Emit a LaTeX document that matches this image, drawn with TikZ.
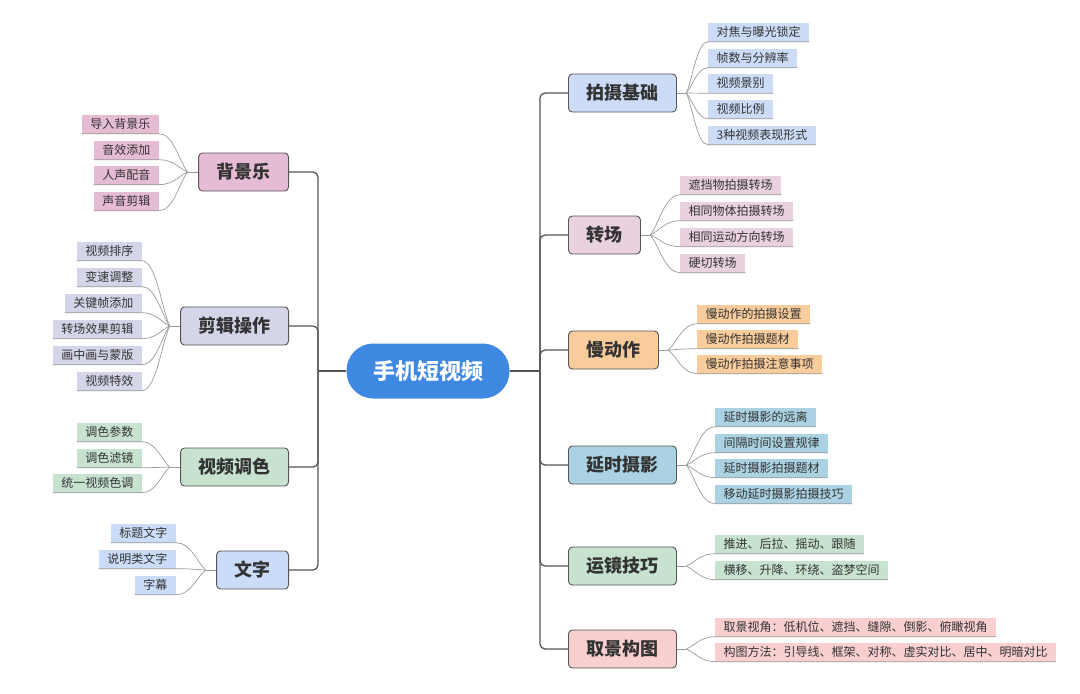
\documentclass[tikz,border=0pt]{standalone}
\usepackage{fontspec}
\usetikzlibrary{calc}
\newfontfamily\cjk{Noto Sans CJK SC}
\definecolor{rootc}{HTML}{3E88E2}
\definecolor{trunkc}{HTML}{555555}
\definecolor{connc}{HTML}{9A9A9A}
\definecolor{txtc}{HTML}{333333}
\definecolor{cA}{HTML}{CCDCF7}
\definecolor{cB}{HTML}{E9D1E0}
\definecolor{cC}{HTML}{F9CC9C}
\definecolor{cD}{HTML}{AAD2E2}
\definecolor{cE}{HTML}{C7E3D0}
\definecolor{cF}{HTML}{F9CFCF}
\definecolor{cG}{HTML}{E5BCD3}
\definecolor{cH}{HTML}{D4D5E8}
\definecolor{cI}{HTML}{C7E3D0}
\definecolor{cJ}{HTML}{CADCF8}
\tikzset{
  rootbox/.style={fill=rootc, text=white, rounded corners=27pt, minimum width=163pt, minimum height=55pt, inner sep=0pt, font=\cjk\bfseries\fontsize{22}{26}\selectfont},
  branchbox/.style={draw=trunkc, line width=0.9pt, rounded corners=4pt, fill=#1, text=txtc, minimum height=38pt, inner xsep=18pt, inner ysep=0pt, text height=15pt, text depth=3pt, font=\cjk\bfseries\fontsize{18}{20}\selectfont},
  leafbox/.style={fill=#1, text=txtc, minimum height=19pt, inner xsep=8.5pt, inner ysep=0pt, text height=10.3pt, text depth=1.6pt, font=\cjk\fontsize{12}{14}\selectfont},
  trunk/.style={draw=trunkc, line width=1.3pt, rounded corners=5pt},
  conn/.style={draw=connc, line width=0.7pt},
}
\newcommand\rleaf[2]{\draw[conn] let \p1=(#1), \p2=(#2.south west) in (\p1) .. controls ({\x1+0.3*(\x2-\x1)},{\y1+0.3*(\y2-\y1)}) and ({\x1+0.5*(\x2-\x1)},\y2) .. (\p2) -- (#2.south east);}
\newcommand\lleaf[2]{\draw[conn] let \p1=(#1), \p2=(#2.south east) in (\p1) .. controls ({\x1+0.3*(\x2-\x1)},{\y1+0.3*(\y2-\y1)}) and ({\x1+0.5*(\x2-\x1)},\y2) .. (\p2) -- (#2.south west);}
\begin{document}
\begin{tikzpicture}[x=1pt,y=-1pt]
\useasboundingbox (0,0) rectangle (1080,694);
% root
\node[rootbox] (root) at (428,371) {手机短视频};
\coordinate (LT) at (318,371);
\coordinate (RT) at (540,371);
% right branches
\node[branchbox=cA, anchor=west] (A) at (568,93) {拍摄基础};
\node[branchbox=cB, anchor=west] (B) at (568,235) {转场};
\node[branchbox=cC, anchor=west] (C) at (568,350) {慢动作};
\node[branchbox=cD, anchor=west] (D) at (568,465) {延时摄影};
\node[branchbox=cE, anchor=west] (E) at (568,566) {运镜技巧};
\node[branchbox=cF, anchor=west] (F) at (568,649) {取景构图};
% left branches
\node[branchbox=cG, anchor=east] (G) at (289,172) {背景乐};
\node[branchbox=cH, anchor=east] (H) at (289,326) {剪辑操作};
\node[branchbox=cI, anchor=east] (I) at (289,467) {视频调色};
\node[branchbox=cJ, anchor=east] (J) at (289,570) {文字};
% trunks
\draw[trunk] (root.west) -- (LT);
\draw[trunk] (root.east) -- (RT);
\foreach \b in {A,B,C,D,E,F} {\draw[trunk] (RT) |- (\b.west);}
\foreach \b in {G,H,I,J} {\draw[trunk] (LT) |- (\b.east);}
% junctions
\foreach \b in {A,B,C,D,E,F} {\coordinate (j\b) at ([xshift=9.5pt]\b.east); \draw[conn] (\b.east) -- (j\b);}
\foreach \b in {G,H,I,J} {\coordinate (j\b) at ([xshift=-10.5pt]\b.west); \draw[conn] (\b.west) -- (j\b);}
% leaves A
\node[leafbox=cA, anchor=west] (A1) at (708,32) {对焦与曝光锁定};
\node[leafbox=cA, anchor=west] (A2) at (708,58) {帧数与分辨率};
\node[leafbox=cA, anchor=west] (A3) at (708,83.5) {视频景别};
\node[leafbox=cA, anchor=west] (A4) at (708,109) {视频比例};
\node[leafbox=cA, anchor=west] (A5) at (708,135) {3种视频表现形式};
% leaves B
\node[leafbox=cB, anchor=west] (B1) at (680,185) {遮挡物拍摄转场};
\node[leafbox=cB, anchor=west] (B2) at (680,211) {相同物体拍摄转场};
\node[leafbox=cB, anchor=west] (B3) at (680,237) {相同运动方向转场};
\node[leafbox=cB, anchor=west] (B4) at (680,263) {硬切转场};
% leaves C
\node[leafbox=cC, anchor=west] (C1) at (697,314) {慢动作的拍摄设置};
\node[leafbox=cC, anchor=west] (C2) at (697,339) {慢动作拍摄题材};
\node[leafbox=cC, anchor=west] (C3) at (697,364) {慢动作拍摄注意事项};
% leaves D
\node[leafbox=cD, anchor=west] (D1) at (715,417) {延时摄影的远离};
\node[leafbox=cD, anchor=west] (D2) at (715,443) {间隔时间设置规律};
\node[leafbox=cD, anchor=west] (D3) at (715,468) {延时摄影拍摄题材};
\node[leafbox=cD, anchor=west] (D4) at (715,494) {移动延时摄影拍摄技巧};
% leaves E
\node[leafbox=cE, anchor=west] (E1) at (715,544) {推进、后拉、摇动、跟随};
\node[leafbox=cE, anchor=west] (E2) at (715,570) {横移、升降、环绕、盗梦空间};
% leaves F
\node[leafbox=cF, anchor=west] (F1) at (715,627) {取景视角：低机位、遮挡、缝隙、倒影、俯瞰视角};
\node[leafbox=cF, anchor=west] (F2) at (715,652) {构图方法：引导线、框架、对称、虚实对比、居中、明暗对比};
% leaves G
\node[leafbox=cG, anchor=east] (G1) at (159,124) {导入背景乐};
\node[leafbox=cG, anchor=east] (G2) at (159,150) {音效添加};
\node[leafbox=cG, anchor=east] (G3) at (159,175) {人声配音};
\node[leafbox=cG, anchor=east] (G4) at (159,201) {声音剪辑};
% leaves H
\node[leafbox=cH, anchor=east] (H1) at (142,251) {视频排序};
\node[leafbox=cH, anchor=east] (H2) at (142,277) {变速调整};
\node[leafbox=cH, anchor=east] (H3) at (142,303) {关键帧添加};
\node[leafbox=cH, anchor=east] (H4) at (142,329) {转场效果剪辑};
\node[leafbox=cH, anchor=east] (H5) at (142,355) {画中画与蒙版};
\node[leafbox=cH, anchor=east] (H6) at (142,381) {视频特效};
% leaves I
\node[leafbox=cI, anchor=east] (I1) at (142,432) {调色参数};
\node[leafbox=cI, anchor=east] (I2) at (142,458) {调色滤镜};
\node[leafbox=cI, anchor=east] (I3) at (142,483) {统一视频色调};
% leaves J
\node[leafbox=cJ, anchor=east] (J1) at (176,533) {标题文字};
\node[leafbox=cJ, anchor=east] (J2) at (176,559) {说明类文字};
\node[leafbox=cJ, anchor=east] (J3) at (176,585) {字幕};
% leaf connectors
\foreach \lf in {A1,A2,A3,A4,A5} {\rleaf{jA}{\lf}}
\foreach \lf in {B1,B2,B3,B4} {\rleaf{jB}{\lf}}
\foreach \lf in {C1,C2,C3} {\rleaf{jC}{\lf}}
\foreach \lf in {D1,D2,D3,D4} {\rleaf{jD}{\lf}}
\foreach \lf in {E1,E2} {\rleaf{jE}{\lf}}
\foreach \lf in {F1,F2} {\rleaf{jF}{\lf}}
\foreach \lf in {G1,G2,G3,G4} {\lleaf{jG}{\lf}}
\foreach \lf in {H1,H2,H3,H4,H5,H6} {\lleaf{jH}{\lf}}
\foreach \lf in {I1,I2,I3} {\lleaf{jI}{\lf}}
\foreach \lf in {J1,J2,J3} {\lleaf{jJ}{\lf}}
\end{tikzpicture}
\end{document}
